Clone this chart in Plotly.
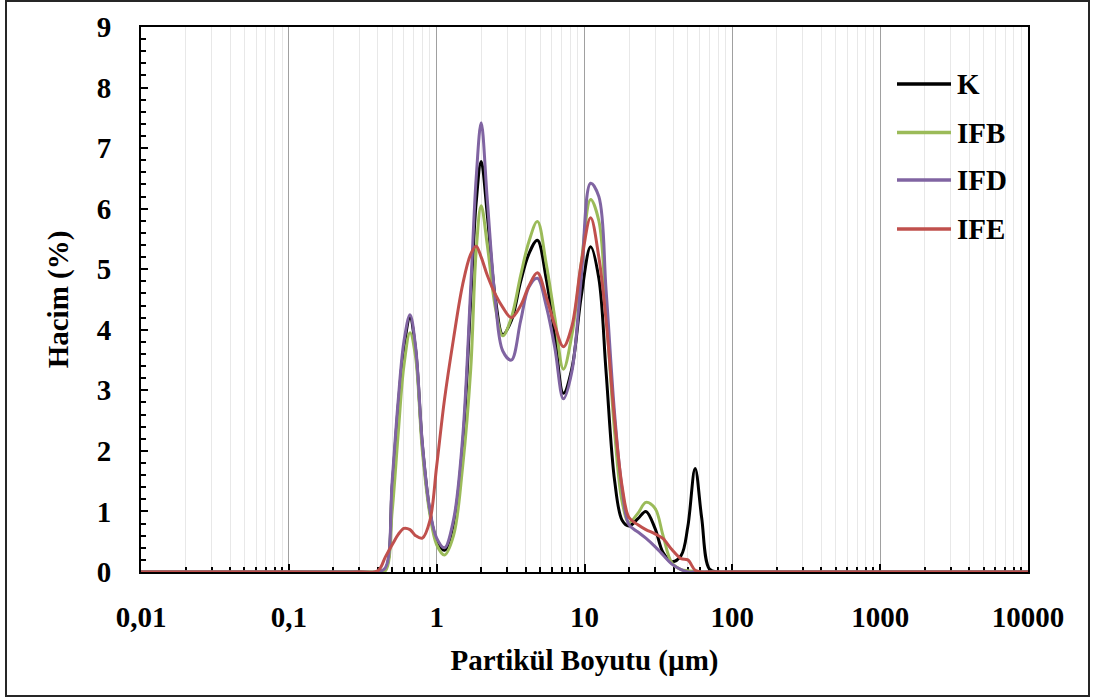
import plotly.graph_objects as go

# Particle size classes (µm)
sizes = [0.01, 0.1, 0.3, 0.4, 0.45, 0.5, 0.55, 0.6, 0.66, 0.72, 0.8, 0.9, 1.0,
         1.13, 1.3, 1.5, 1.7, 1.85, 2.0, 2.2, 2.5, 2.8,
         3.2, 3.7, 4.2, 4.8, 5.5, 6.3, 7.2, 8.2, 9.5,
         11, 12.5, 14, 16, 18, 20, 23, 26, 30,
         34, 39, 45, 50, 56, 62, 70, 80,
         100, 1000, 10000]

K = [0, 0, 0, 0, 0.05, 1.4, 2.75, 3.7, 4.2, 3.68, 2.1, 1.0, 0.52,
     0.36, 0.8, 2.1, 4.5, 6.1, 6.78, 5.9, 4.5, 3.92,
     4.15, 4.8, 5.25, 5.48, 4.85, 3.9, 2.95, 3.35, 4.55,
     5.37, 4.85, 3.3, 1.5, 0.85, 0.76, 0.88, 1.0, 0.72,
     0.32, 0.17, 0.27, 0.75, 1.71, 0.9, 0.05, 0,
     0, 0, 0]

IFB = [0, 0, 0, 0, 0.02, 1.0, 2.3, 3.4, 3.95, 3.55, 2.0, 0.95, 0.45,
       0.28, 0.6, 1.75, 3.35, 5.3, 6.05, 5.4, 4.35, 3.9,
       4.2, 4.9, 5.45, 5.79, 5.1, 4.2, 3.35, 3.9, 5.1,
       6.15, 5.8, 4.3, 2.3, 1.15, 0.82, 0.97, 1.15, 1.05,
       0.6, 0.15, 0.04, 0.02, 0.01, 0, 0, 0,
       0, 0, 0]

IFD = [0, 0, 0, 0, 0.07, 1.5, 2.85, 3.8, 4.25, 3.72, 2.13, 1.02, 0.56,
       0.40, 0.86, 2.23, 4.7, 6.5, 7.42, 6.15, 4.45, 3.65,
       3.5, 4.15, 4.7, 4.85, 4.4, 3.7, 2.86, 3.3, 4.85,
       6.42, 6.2, 4.65, 2.6, 1.35, 0.78, 0.66, 0.56, 0.42,
       0.28, 0.13, 0.04, 0, 0, 0, 0, 0,
       0, 0, 0]

IFE = [0, 0, 0, 0.02, 0.25, 0.45, 0.62, 0.72, 0.7, 0.6, 0.56, 0.85, 1.75,
       2.85, 3.85, 4.75, 5.25, 5.38, 5.2, 4.9, 4.58, 4.37,
       4.2, 4.4, 4.72, 4.94, 4.55, 4.07, 3.72, 4.05, 5.1,
       5.85, 5.2, 4.15, 2.5, 1.4, 0.9, 0.78, 0.7, 0.63,
       0.55, 0.37, 0.22, 0.2, 0.03, 0, 0, 0,
       0, 0, 0]

series_names = ["K", "IFB", "IFD", "IFE"]
series_values = [K, IFB, IFD, IFE]
colors = ["#000000", "#9BBB59", "#8064A2", "#C0504D"]

x_tickvals = [0.01, 0.1, 1, 10, 100, 1000, 10000]
x_ticktext = ["0,01", "0,1", "1", "10", "100", "1000", "10000"]
x_minor = [k * 10.0 ** e for e in range(-2, 4) for k in range(2, 10)]

FONT = "Liberation Serif, Times New Roman, serif"
FS = 29

# plot area in pixels
L, R, T, B = 141, 1028, 27, 572
W, H = 1094, 700


def px_x(p):
    return (p - L) / (R - L)


def px_y(p):
    return (B - p) / (B - T)


fig = go.Figure()
for name, vals, col in zip(series_names, series_values, colors):
    fig.add_trace(go.Scatter(
        x=sizes, y=vals, name=name, mode="lines",
        line=dict(color=col, width=3, shape="spline", smoothing=1.0),
        showlegend=False,
    ))

# manual legend (long line samples like the original)
leg_y = [84, 132.5, 180, 229]
shapes = []
annotations = []
for name, col, yy in zip(series_names, colors, leg_y):
    shapes.append(dict(type="line", xref="paper", yref="paper",
                       x0=px_x(897), x1=px_x(951), y0=px_y(yy), y1=px_y(yy),
                       line=dict(color=col, width=3.5)))
    annotations.append(dict(x=px_x(955), y=px_y(yy), xref="paper", yref="paper",
                            text=name, showarrow=False, xanchor="left", yanchor="middle",
                            font=dict(family=FONT, size=FS, color="black", weight="bold")))

# outer frame
shapes.append(dict(type="rect", xref="paper", yref="paper",
                   x0=px_x(6), x1=px_x(1089), y0=px_y(696), y1=px_y(1),
                   line=dict(color="#262626", width=2), layer="below"))

fig.update_layout(
    width=W, height=H,
    margin=dict(l=L, r=W - R, t=T, b=H - B, pad=0),
    paper_bgcolor="white", plot_bgcolor="white",
    font=dict(family=FONT, size=FS, color="black"),
    shapes=shapes, annotations=annotations,
    showlegend=False,
)

fig.update_xaxes(
    type="log", range=[-2, 4],
    tickmode="array", tickvals=x_tickvals, ticktext=x_ticktext,
    ticks="inside", ticklen=8, tickwidth=1.5, tickcolor="black",
    tickfont=dict(family=FONT, size=FS, color="black", weight="bold"),
    ticklabelstandoff=18,
    showgrid=True, gridcolor="#a0a0a0", gridwidth=1,
    minor=dict(tickmode="array", tickvals=x_minor, ticks="inside", ticklen=5,
               tickwidth=1.5, tickcolor="black", showgrid=True,
               gridcolor="#e8e8e8", gridwidth=1),
    showline=True, linecolor="black", linewidth=2, mirror=True,
    zeroline=False, layer="below traces",
    title=dict(text="Partikül Boyutu (µm)", standoff=18,
               font=dict(family=FONT, size=FS, color="black", weight="bold")),
)

fig.update_yaxes(
    range=[0, 9], dtick=1, tick0=0,
    ticks="inside", ticklen=7, tickwidth=1.5, tickcolor="black",
    tickfont=dict(family=FONT, size=FS, color="black", weight="bold"),
    ticklabelstandoff=22,
    showgrid=False,
    minor=dict(dtick=0.2, ticks="inside", ticklen=5, tickwidth=1.5,
               tickcolor="black", showgrid=False),
    showline=True, linecolor="black", linewidth=2, mirror=True,
    zeroline=False, layer="below traces",
    title=dict(text="Hacim (%)", standoff=20,
               font=dict(family=FONT, size=FS, color="black", weight="bold")),
)

fig.write_html("out.html")
